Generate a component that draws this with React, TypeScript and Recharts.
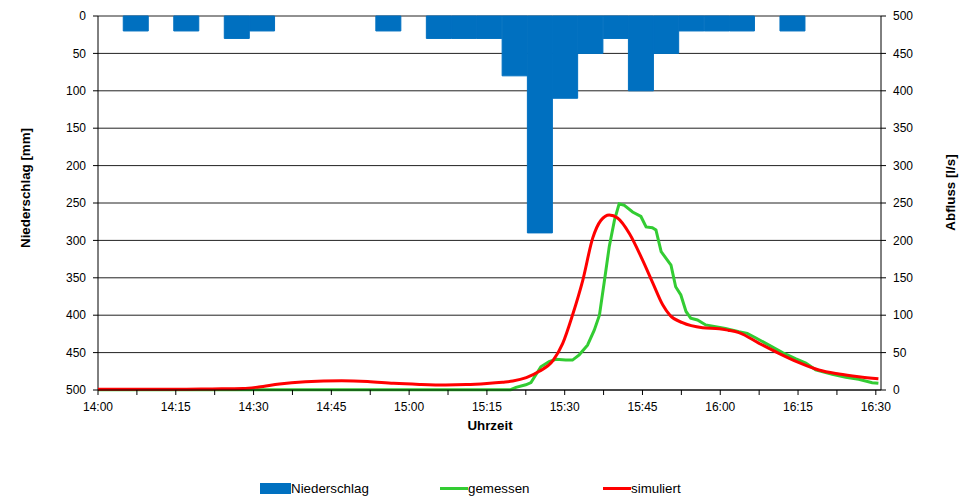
import React from 'react';
import { BarChart, Bar, XAxis, YAxis, CartesianGrid, LineChart, Line } from 'recharts';

// Niederschlag: 5-minute categories
const rainCategories = [
  '14:00', '14:05', '14:10', '14:15', '14:20', '14:25', '14:30', '14:35', '14:40', '14:45', '14:50',
  '14:55', '15:00', '15:05', '15:10', '15:15', '15:20', '15:25', '15:30', '15:35', '15:40', '15:45',
  '15:50', '15:55', '16:00', '16:05', '16:10', '16:15', '16:20', '16:25', '16:30',
];
const rainValues = [
  0, 20, 0, 20, 0, 30, 20, 0, 0, 0, 0,
  20, 0, 30, 30, 30, 80, 290, 110, 50, 30, 100,
  50, 20, 20, 20, 0, 20, 0, 0, 0,
];

// Abfluss gemessen (minutes after 14:00, l/s)
const gemessenMinutes = [
  0, 20, 40, 60, 79.6, 80.6, 82.5, 83.5, 85.4, 87.0, 88.3, 90.2, 91.5, 92.8, 94.4, 95.7, 96.7, 97.6,
  98.6, 99.6, 100.5, 101.5, 103.1, 104.7, 105.7, 106.9, 107.6, 108.6, 110.5, 111.4, 112.4, 113.4,
  114.3, 115.6, 117.2, 121.0, 123.6, 125.2, 126.8, 129.4, 132.0, 134.5, 136.5, 138.4, 141.6, 144.2,
  146.7, 149.3, 150.5,
];
const gemessenValues = [
  0.5, 0.5, 0.5, 0.5, 0.5, 3.6, 7, 10, 31, 38, 41, 40, 40, 47, 60, 80, 100, 143,
  192, 227, 249, 247, 238, 232, 218, 217, 214, 185, 167, 138, 127, 105,
  96, 93.6, 87, 82.4, 78, 75.7, 69.8, 60, 50, 42, 36, 27, 21, 17,
  14.3, 9.8, 9,
];

// Abfluss simuliert (minutes after 14:00, l/s)
const simuliertMinutes = [
  0, 15, 22, 28, 31, 35, 40, 47, 52, 57, 62, 67, 71, 75, 78, 80, 82.6, 85.1, 87.7, 89.6, 91.5,
  93.5, 95.4, 97.0, 98.6, 100.2, 102.5, 105.0, 107.0, 108.9, 110.3, 112.7, 116.6, 119.8, 121.5,
  123.6, 127.5, 131.3, 135.2, 139.0, 142.9, 146.7, 150.5,
];
const simuliertValues = [
  1, 1, 1.5, 2, 4, 8, 11, 12.5, 11.5, 9, 7.5, 6.7, 7.2, 8.8, 10.5, 12, 16.5, 25, 39, 62, 100,
  147, 203, 227, 234, 230, 209, 174, 143, 114, 100, 90, 83.3, 82, 80,
  76.7, 62.4, 49, 36.5, 26.7, 21.4, 17.8, 15,
];

// Axis ticks
const timeTickMinutes = [0, 7.5, 15, 22.5, 30, 37.5, 45, 52.5, 60, 67.5, 75, 82.5, 90, 97.5, 105, 112.5, 120, 127.5, 135, 142.5, 150];
const timeTickLabels = ['14:00', '', '14:15', '', '14:30', '', '14:45', '', '15:00', '', '15:15', '', '15:30', '', '15:45', '', '16:00', '', '16:15', '', '16:30'];
const valueTicks = [0, 50, 100, 150, 200, 250, 300, 350, 400, 450, 500];

const seriesNames = ['Niederschlag', 'gemessen', 'simuliert'];
const colors = { rain: '#0070C0', measured: '#33CC33', simulated: '#FF0000' };

const rainData = rainCategories.map((c, i) => ({ cat: c, rain: rainValues[i] }));

const lineData = (() => {
  const map = new Map<number, { t: number; gemessen?: number; simuliert?: number }>();
  gemessenMinutes.forEach((t, i) => {
    const row = map.get(t) || { t };
    row.gemessen = gemessenValues[i];
    map.set(t, row);
  });
  simuliertMinutes.forEach((t, i) => {
    const row = map.get(t) || { t };
    row.simuliert = simuliertValues[i];
    map.set(t, row);
  });
  return Array.from(map.values()).sort((a, b) => a.t - b.t);
})();

const FONT = "'Liberation Sans', Arial, Helvetica, sans-serif";
const tickStyle = { fontSize: 12, fill: '#000', fontFamily: FONT };

export default function App() {
  return (
    <div style={{ position: 'absolute', left: 0, top: 0, width: 961, height: 500, background: '#fff', fontFamily: FONT }}>
      <div style={{ position: 'absolute', left: 0, top: 0 }}>
        <BarChart
          width={961}
          height={500}
          data={rainData}
          margin={{ top: 16, right: 80, bottom: 110, left: 0 }}
          barCategoryGap={0}
          barGap={0}
        >
          <CartesianGrid vertical={false} horizontal stroke="#222" strokeWidth={1} />
          <XAxis dataKey="cat" type="category" hide height={0} />
          <YAxis
            reversed
            domain={[0, 500]}
            ticks={valueTicks}
            interval={0}
            width={98}
            tickSize={5}
            tickMargin={7}
            tick={tickStyle}
            axisLine={{ stroke: '#000' }}
            tickLine={{ stroke: '#000' }}
          />
          <Bar
            dataKey="rain"
            name={seriesNames[0]}
            fill={colors.rain}
            stroke={colors.rain}
            strokeWidth={1}
            isAnimationActive={false}
          />
        </BarChart>
      </div>
      <div style={{ position: 'absolute', left: 0, top: 0 }}>
        <LineChart
          width={961}
          height={500}
          data={lineData}
          margin={{ top: 16, right: 0, bottom: 70, left: 98 }}
        >
          <XAxis
            dataKey="t"
            type="number"
            domain={[0, 151]}
            ticks={timeTickMinutes}
            interval={0}
            height={40}
            tickSize={5}
            tickMargin={7}
            tick={tickStyle}
            tickFormatter={(v: number) => {
              const i = timeTickMinutes.indexOf(v);
              return i >= 0 ? timeTickLabels[i] : '';
            }}
            axisLine={{ stroke: '#000' }}
            tickLine={{ stroke: '#000' }}
            allowDataOverflow
          />
          <YAxis
            orientation="right"
            domain={[0, 500]}
            ticks={valueTicks}
            interval={0}
            width={80}
            tickSize={5}
            tickMargin={7}
            tick={tickStyle}
            axisLine={{ stroke: '#000' }}
            tickLine={{ stroke: '#000' }}
          />
          <Line
            dataKey="gemessen"
            name={seriesNames[1]}
            type="linear"
            stroke={colors.measured}
            strokeWidth={3}
            dot={false}
            activeDot={false}
            connectNulls
            isAnimationActive={false}
          />
          <Line
            dataKey="simuliert"
            name={seriesNames[2]}
            type="monotone"
            stroke={colors.simulated}
            strokeWidth={3}
            dot={false}
            activeDot={false}
            connectNulls
            isAnimationActive={false}
          />
        </LineChart>
      </div>
      <svg
        width={961}
        height={500}
        style={{ position: 'absolute', left: 0, top: 0, pointerEvents: 'none' }}
        fontFamily={FONT}
      >
        <text transform="translate(30,188) rotate(-90)" textAnchor="middle" fontSize={13.33} fontWeight="bold" fill="#000">
          Niederschlag [mm]
        </text>
        <text transform="translate(954.5,192.5) rotate(-90)" textAnchor="middle" fontSize={13.33} fontWeight="bold" fill="#000">
          Abfluss [l/s]
        </text>
        <text x={490} y={430} textAnchor="middle" fontSize={13.33} fontWeight="bold" fill="#000">
          Uhrzeit
        </text>
        <rect x={260} y={483} width={31} height={11} fill={colors.rain} />
        <text x={291} y={493} fontSize={13.33} fill="#000">{seriesNames[0]}</text>
        <line x1={440} x2={468} y1={488.5} y2={488.5} stroke={colors.measured} strokeWidth={3} />
        <text x={468} y={493} fontSize={13.33} fill="#000">{seriesNames[1]}</text>
        <line x1={603} x2={631} y1={488.5} y2={488.5} stroke={colors.simulated} strokeWidth={3} />
        <text x={631} y={493} fontSize={13.33} fill="#000">{seriesNames[2]}</text>
      </svg>
    </div>
  );
}
